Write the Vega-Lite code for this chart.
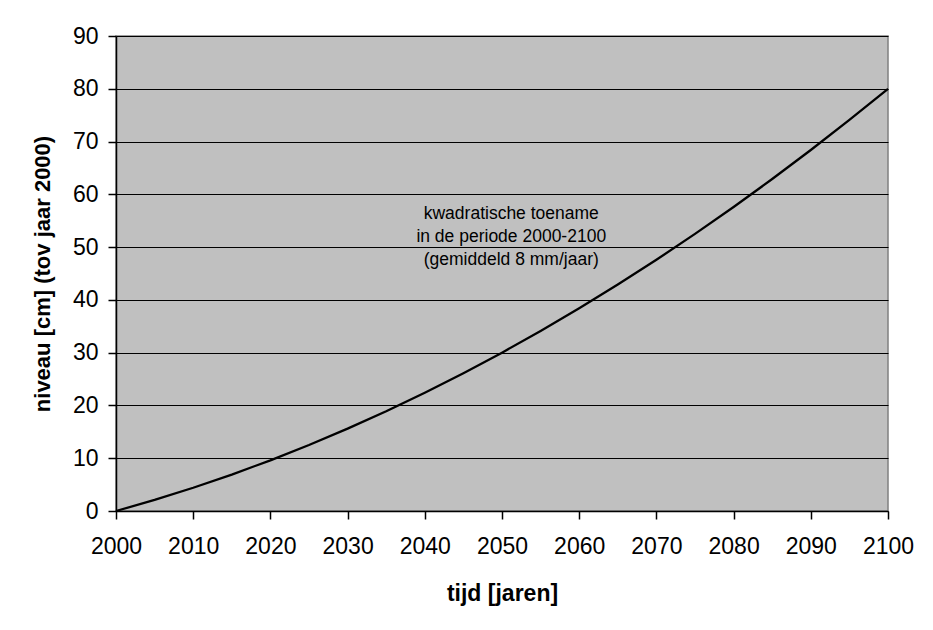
{
  "$schema": "https://vega.github.io/schema/vega-lite/v6.json",
  "width": 772,
  "height": 475,
  "autosize": {"type": "none"},
  "padding": {"left": 116, "top": 36, "right": 45, "bottom": 119},
  "background": "white",
  "config": {
    "font": "Liberation Sans",
    "view": {"fill": "#C0C0C0", "stroke": "#808080", "strokeWidth": 1.5}
  },
  "layer": [
    {
      "data": {
        "values": [
          {"jaar": 2000, "niveau": 0},
          {"jaar": 2005, "niveau": 2.1},
          {"jaar": 2010, "niveau": 4.4},
          {"jaar": 2015, "niveau": 6.9},
          {"jaar": 2020, "niveau": 9.6},
          {"jaar": 2025, "niveau": 12.5},
          {"jaar": 2030, "niveau": 15.6},
          {"jaar": 2035, "niveau": 18.9},
          {"jaar": 2040, "niveau": 22.4},
          {"jaar": 2045, "niveau": 26.1},
          {"jaar": 2050, "niveau": 30.0},
          {"jaar": 2055, "niveau": 34.1},
          {"jaar": 2060, "niveau": 38.4},
          {"jaar": 2065, "niveau": 42.9},
          {"jaar": 2070, "niveau": 47.6},
          {"jaar": 2075, "niveau": 52.5},
          {"jaar": 2080, "niveau": 57.6},
          {"jaar": 2085, "niveau": 62.9},
          {"jaar": 2090, "niveau": 68.4},
          {"jaar": 2095, "niveau": 74.1},
          {"jaar": 2100, "niveau": 80.0}
        ]
      },
      "mark": {"type": "line", "color": "black", "strokeWidth": 2.3},
      "encoding": {
        "x": {
          "field": "jaar",
          "type": "quantitative",
          "scale": {"domain": [2000, 2100], "nice": false, "zero": false},
          "axis": {
            "values": [2000, 2010, 2020, 2030, 2040, 2050, 2060, 2070, 2080, 2090, 2100],
            "format": "d",
            "grid": false,
            "domainColor": "black",
            "domainWidth": 1.5,
            "tickColor": "black",
            "tickSize": 8,
            "tickWidth": 1.5,
            "labelFontSize": 23,
            "labelColor": "black",
            "labelPadding": 16,
            "labelFlush": false,
            "title": "tijd [jaren]",
            "titleFontSize": 23,
            "titleFontWeight": "bold",
            "titleColor": "black",
            "titlePadding": 24
          }
        },
        "y": {
          "field": "niveau",
          "type": "quantitative",
          "scale": {"domain": [0, 90], "nice": false},
          "axis": {
            "values": [0, 10, 20, 30, 40, 50, 60, 70, 80, 90],
            "grid": true,
            "gridColor": "black",
            "gridWidth": 1.2,
            "gridOpacity": 1,
            "domainColor": "black",
            "domainWidth": 1.5,
            "tickColor": "black",
            "tickSize": 8,
            "tickWidth": 1.5,
            "labelFontSize": 23,
            "labelColor": "black",
            "labelPadding": 10,
            "labelFlush": false,
            "title": "niveau [cm] (tov jaar 2000)",
            "titleFontSize": 22,
            "titleFontWeight": "bold",
            "titleColor": "black",
            "titlePadding": 18
          }
        }
      }
    },
    {
      "data": {"values": [{"jaar": 2051.2, "niveau": 56.3, "tekst": "kwadratische toename\nin de periode 2000-2100\n(gemiddeld 8 mm/jaar)"}]},
      "mark": {"type": "text", "fontSize": 17.5, "color": "black", "lineBreak": "\n", "lineHeight": 23, "align": "center", "baseline": "middle"},
      "encoding": {
        "x": {"field": "jaar", "type": "quantitative"},
        "y": {"field": "niveau", "type": "quantitative"},
        "text": {"field": "tekst"}
      }
    }
  ]
}
